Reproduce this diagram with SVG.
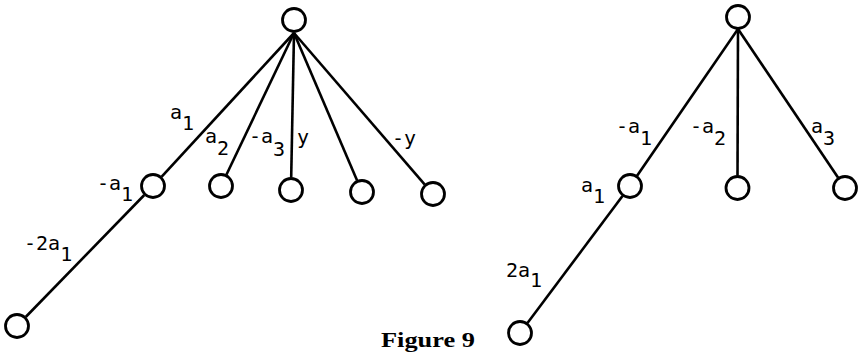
<svg xmlns="http://www.w3.org/2000/svg" width="867" height="353" viewBox="0 0 867 353">
<style>
.n{fill:#fff;stroke:#000;stroke-width:2.8}
.e{stroke:#000;stroke-width:2.6;fill:none;stroke-linecap:butt}
.l{font-family:"DejaVu Sans Mono","Liberation Mono",monospace;font-size:20px;fill:#000}
.cap{font-family:"Liberation Serif","Times New Roman",serif;font-weight:bold;font-size:20px;fill:#000}
</style>
<rect width="867" height="353" fill="#fff"/>
<g id="connectors">
<line class="e" x1="294" y1="33" x2="161.5" y2="176.8"/>
<line class="e" x1="294" y1="33" x2="226.4" y2="174.7"/>
<line class="e" x1="294" y1="33" x2="291.2" y2="177.5"/>
<line class="e" x1="294" y1="33" x2="357.1" y2="180.5"/>
<line class="e" x1="294" y1="33" x2="424.8" y2="184.6"/>
<line class="e" x1="144.3" y1="195" x2="25.7" y2="317"/>
<line class="e" x1="738" y1="29" x2="637.1" y2="175.7"/>
<line class="e" x1="738" y1="29" x2="737.5" y2="175.5"/>
<line class="e" x1="738" y1="29" x2="838" y2="177.6"/>
<line class="e" x1="622.5" y1="196" x2="527.5" y2="323"/>
</g>
<g id="L-root"><circle class="n" cx="294" cy="20" r="11.5"/></g>
<g id="L-c1"><circle class="n" cx="153" cy="186" r="11.5"/></g>
<g id="L-c2"><circle class="n" cx="221" cy="186" r="11.5"/></g>
<g id="L-c3"><circle class="n" cx="291" cy="190" r="11.5"/></g>
<g id="L-c4"><circle class="n" cx="362" cy="192" r="11.5"/></g>
<g id="L-c5"><circle class="n" cx="433" cy="194" r="11.5"/></g>
<g id="L-c11"><circle class="n" cx="17" cy="326" r="11.5"/></g>
<g id="R-root"><circle class="n" cx="738" cy="17" r="11.5"/></g>
<g id="R-c1"><circle class="n" cx="630" cy="186" r="11.5"/></g>
<g id="R-c2"><circle class="n" cx="737.5" cy="188" r="11.5"/></g>
<g id="R-c3"><circle class="n" cx="845" cy="188" r="11.5"/></g>
<g id="R-c11"><circle class="n" cx="520" cy="333" r="11.5"/></g>
<g id="labels">
<text class="l" x="170" y="119">a<tspan dy="11">1</tspan></text>
<text class="l" x="205" y="143">a<tspan dy="12">2</tspan></text>
<text class="l" x="249" y="143">-a<tspan dy="13">3</tspan></text>
<text class="l" x="297" y="144">y</text>
<text class="l" x="392" y="145">-y</text>
<text class="l" x="97" y="190">-a<tspan dy="11">1</tspan></text>
<text class="l" x="24" y="250">-2a<tspan dy="11">1</tspan></text>
<text class="l" x="616" y="133">-a<tspan dy="12">1</tspan></text>
<text class="l" x="690" y="133">-a<tspan dy="12">2</tspan></text>
<text class="l" x="811" y="133">a<tspan dy="12">3</tspan></text>
<text class="l" x="581" y="192">a<tspan dy="11">1</tspan></text>
<text class="l" x="506" y="277">2a<tspan dy="10">1</tspan></text>
<text class="cap" x="381" y="347" textLength="94" lengthAdjust="spacingAndGlyphs">Figure 9</text>
</g>
</svg>
